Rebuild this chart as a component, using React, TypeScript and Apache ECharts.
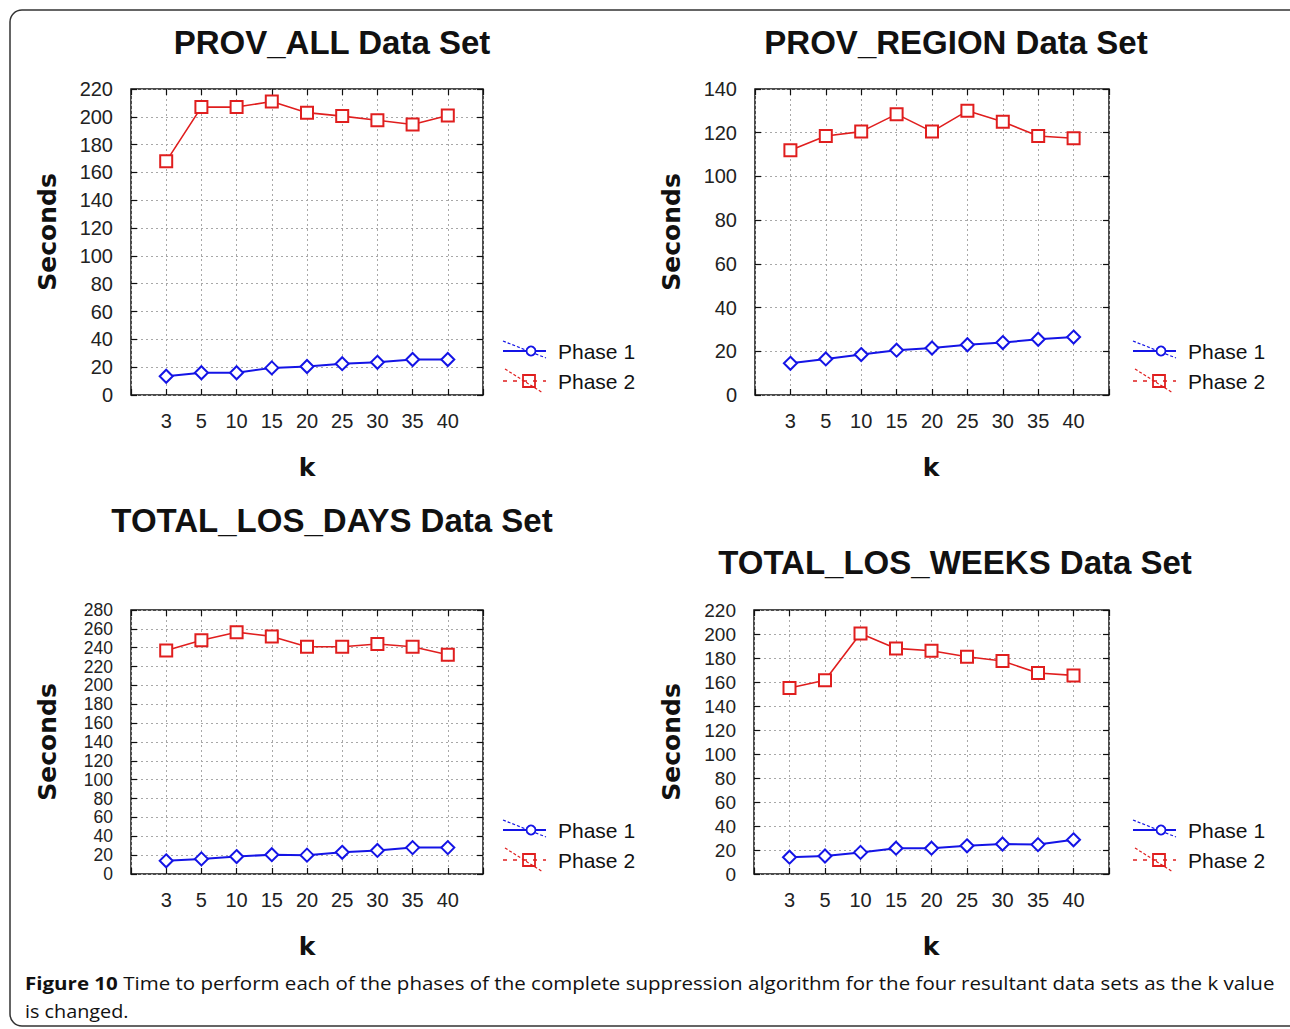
import React, { useEffect, useRef } from "react";
import * as echarts from "echarts";

const kLabels = ["3", "5", "10", "15", "20", "25", "30", "35", "40"];

const provAllP1 = [13.5, 16, 16, 19.5, 20.5, 22.5, 23.5, 25.5, 25.5];
const provAllP2 = [168, 207, 207, 211, 203, 200.5, 197.5, 194.5, 201];
const provRegionP1 = [14.5, 16.5, 18.5, 20.5, 21.5, 23, 24, 25.5, 26.5];
const provRegionP2 = [112, 118.5, 120.5, 128.5, 120.5, 130, 125, 118.5, 117.5];
const losDaysP1 = [14, 16, 18.5, 20.5, 20, 23, 25, 28, 28];
const losDaysP2 = [237, 248, 256.5, 252, 241, 241, 244, 241, 232.5];
const losWeeksP1 = [14, 15, 18, 21.5, 21.5, 23.5, 25, 24.5, 28.5];
const losWeeksP2 = [155, 161.5, 200.5, 188, 186, 181, 177.5, 167.5, 165.5];

const titles = ["PROV_ALL Data Set", "PROV_REGION Data Set", "TOTAL_LOS_DAYS Data Set", "TOTAL_LOS_WEEKS Data Set"];
const yMaxes = [220, 140, 280, 220];
const seriesNames = ["Phase 1", "Phase 2"];
const yAxisTitle = "Seconds";
const xAxisTitle = "k";
const captionBold = "Figure 10";
const captionLine1 = " Time to perform each of the phases of the complete suppression algorithm for the four resultant data sets as the k value";
const captionLine2 = "is changed.";

const panelData = [
  [provAllP1, provAllP2],
  [provRegionP1, provRegionP2],
  [losDaysP1, losDaysP2],
  [losWeeksP1, losWeeksP2],
];

// layout
const grids = [
  { left: 131, top: 89, width: 352, height: 306 },
  { left: 755, top: 89, width: 354, height: 306 },
  { left: 131, top: 610, width: 352, height: 264 },
  { left: 754, top: 610, width: 355, height: 264 },
];
const yLabelSize = [20, 20, 17.5, 19];
const titlePos = [
  [332, 42],
  [956, 42],
  [332, 520],
  [955, 562],
];
const secondsPos = [
  [47, 232],
  [671, 232],
  [47, 742],
  [671, 742],
];
const kPos = [
  [307, 467],
  [931, 467],
  [307, 946],
  [931, 946],
];
const legendPos = [
  [503, 351],
  [1133, 351],
  [503, 830],
  [1133, 830],
];

const BLUE = "#1414e6";
const RED = "#e01e1e";
const FONT = "'Liberation Sans', Arial, sans-serif";

function legendElements(x0: number, y: number): any[] {
  const w = 43;
  const y2 = y + 30;
  return [
    { type: "line", shape: { x1: x0, y1: y, x2: x0 + w, y2: y }, style: { stroke: BLUE, lineWidth: 2 } },
    { type: "line", shape: { x1: x0, y1: y - 10, x2: x0 + w, y2: y + 7 }, style: { stroke: BLUE, lineWidth: 1.2, lineDash: [3, 2] } },
    { type: "circle", shape: { cx: x0 + 28, cy: y, r: 4.5 }, style: { stroke: BLUE, fill: "#fff", lineWidth: 1.8 } },
    { type: "text", x: x0 + 55, y: y, style: { text: seriesNames[0], fill: "#111", font: `21px ${FONT}`, textAlign: "left", textVerticalAlign: "middle" } },
    { type: "line", shape: { x1: x0, y1: y2, x2: x0 + w, y2: y2 }, style: { stroke: RED, lineWidth: 1.5, lineDash: [4, 6] } },
    { type: "line", shape: { x1: x0 + 2, y1: y2 - 12, x2: x0 + w - 3, y2: y2 + 12 }, style: { stroke: RED, lineWidth: 1.2, lineDash: [3, 2] } },
    { type: "rect", shape: { x: x0 + 20, y: y2 - 6, width: 12, height: 12 }, style: { stroke: RED, fill: "none", lineWidth: 1.8 } },
    { type: "text", x: x0 + 55, y: y2, style: { text: seriesNames[1], fill: "#111", font: `21px ${FONT}`, textAlign: "left", textVerticalAlign: "middle" } },
  ];
}

export default function App() {
  const ref = useRef<HTMLDivElement>(null);
  useEffect(() => {
    if (!ref.current) return;
    const chart = echarts.init(ref.current, undefined, { renderer: "svg" });

    const gridOpts = grids.map((g) => ({
      ...g,
      show: true,
      borderColor: "#111",
      borderWidth: 1.5,
      backgroundColor: "#fff",
      containLabel: false,
    }));

    const xAxes: any[] = [];
    const yAxes: any[] = [];
    const series: any[] = [];
    const xFormatter = (v: number) => {
      const i = Math.round(v);
      return Math.abs(v - i) < 1e-6 && i >= 0 && i < kLabels.length ? kLabels[i] : "";
    };
    const tick = { show: true, inside: true, length: 6, lineStyle: { color: "#111", width: 1.2 } };
    const grid = { show: true, lineStyle: { color: "#a8a8a8", type: [2, 3], width: 1 } };
    grids.forEach((_, gi) => {
      const common = { gridIndex: gi, type: "value", min: -1, max: kLabels.length, interval: 1 };
      xAxes.push({
        ...common,
        position: "bottom",
        axisLine: { show: false, onZero: false },
        axisTick: tick,
        axisLabel: { formatter: xFormatter, margin: 16, color: "#222", fontSize: 20, fontFamily: FONT, showMinLabel: true, showMaxLabel: true, hideOverlap: false },
        splitLine: grid,
      });
      xAxes.push({
        ...common,
        position: "top",
        axisLine: { show: false, onZero: false },
        axisTick: tick,
        axisLabel: { show: false },
        splitLine: { show: false },
      });
      const yCommon = { gridIndex: gi, type: "value", min: 0, max: yMaxes[gi], interval: 20 };
      yAxes.push({
        ...yCommon,
        position: "left",
        axisLine: { show: false, onZero: false },
        axisTick: tick,
        axisLabel: {
          margin: 18,
          color: "#222",
          fontSize: yLabelSize[gi],
          lineHeight: yLabelSize[gi],
          fontFamily: FONT,
          showMinLabel: true,
          showMaxLabel: true,
          hideOverlap: false,
        },
        splitLine: grid,
      });
      yAxes.push({
        ...yCommon,
        position: "right",
        axisLine: { show: false, onZero: false },
        axisTick: tick,
        axisLabel: { show: false },
        splitLine: { show: false },
      });
      const [p1, p2] = panelData[gi];
      series.push({
        type: "line",
        name: seriesNames[0],
        xAxisIndex: gi * 2,
        yAxisIndex: gi * 2,
        data: p1.map((v, i) => [i, v]),
        symbol: "emptyDiamond",
        symbolSize: 13,
        lineStyle: { color: BLUE, width: 2 },
        itemStyle: { color: BLUE, borderColor: BLUE, borderWidth: 1.6 },
        z: 3,
      });
      series.push({
        type: "line",
        name: seriesNames[1],
        xAxisIndex: gi * 2,
        yAxisIndex: gi * 2,
        data: p2.map((v, i) => [i, v]),
        symbol: "emptyRect",
        symbolSize: 12,
        lineStyle: { color: RED, width: 1.6 },
        itemStyle: { color: RED, borderColor: RED, borderWidth: 1.6 },
        z: 3,
      });
    });

    const graphics: any[] = [];
    graphics.push({
      type: "rect",
      shape: { x: 10, y: 10, width: 1300, height: 1016, r: 12 },
      style: { stroke: "#333", fill: "none", lineWidth: 1.5 },
      z: 0,
    });
    titles.forEach((t, i) => {
      graphics.push({
        type: "text",
        x: titlePos[i][0],
        y: titlePos[i][1],
        style: { text: t, fill: "#111", font: `bold 33px ${FONT}`, textAlign: "center", textVerticalAlign: "middle" },
      });
      graphics.push({
        type: "text",
        x: secondsPos[i][0],
        y: secondsPos[i][1],
        rotation: Math.PI / 2,
        style: { text: yAxisTitle, fill: "#111", font: `bold 25px 'DejaVu Sans', sans-serif`, textAlign: "center", textVerticalAlign: "middle" },
      });
      graphics.push({
        type: "text",
        x: kPos[i][0],
        y: kPos[i][1],
        style: { text: xAxisTitle, fill: "#111", font: `bold 25px 'DejaVu Sans', sans-serif`, textAlign: "center", textVerticalAlign: "middle" },
      });
      graphics.push(...legendElements(legendPos[i][0], legendPos[i][1]));
    });
    graphics.push({
      type: "text",
      x: 25,
      y: 983,
      scaleX: 1.14,
      style: {
        text: `{b|${captionBold}}${captionLine1}`,
        fill: "#111",
        font: `18px 'Open Sans', sans-serif`,
        textAlign: "left",
        textVerticalAlign: "middle",
        rich: { b: { fontWeight: "bold", fontSize: 18, fontFamily: "'Open Sans', sans-serif", fill: "#111" } },
      },
    });
    graphics.push({
      type: "text",
      x: 25,
      y: 1011,
      scaleX: 1.1,
      style: { text: captionLine2, fill: "#111", font: `18px 'Open Sans', sans-serif`, textAlign: "left", textVerticalAlign: "middle" },
    });

    chart.setOption({
      animation: false,
      backgroundColor: "#fff",
      grid: gridOpts,
      xAxis: xAxes,
      yAxis: yAxes,
      series,
      graphic: graphics,
    });
    return () => chart.dispose();
  }, []);
  return (
    <div
      ref={ref}
      style={{ position: "absolute", left: 0, top: 0, width: 1290, height: 1029, background: "#fff" }}
    />
  );
}
